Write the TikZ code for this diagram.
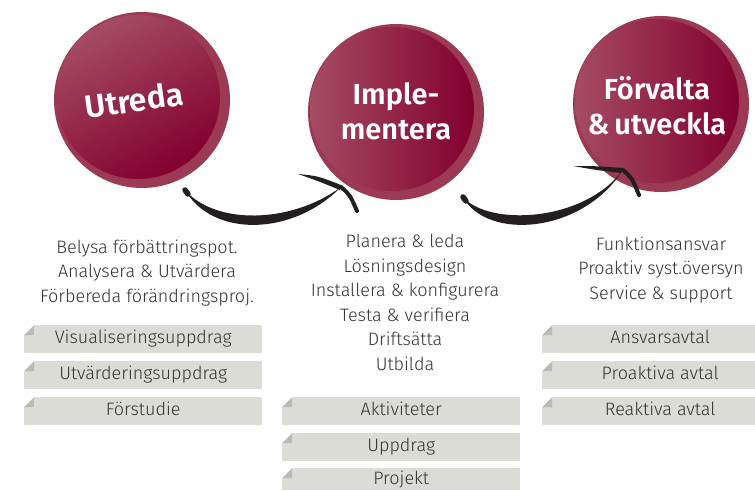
\documentclass[tikz,border=0pt]{standalone}
\usepackage{fontspec}
\setmainfont{Fira Sans}[UprightFont=* Light, BoldFont=* SemiBold]
\usetikzlibrary{calc}
\definecolor{ringc}{HTML}{9C3A53}
\definecolor{lightc}{HTML}{A54C63}
\definecolor{darkc}{HTML}{82002F}
\definecolor{txt}{HTML}{333333}
\definecolor{boxc}{HTML}{DCDCD7}
\definecolor{foldc}{HTML}{BABAB6}
\definecolor{ink}{HTML}{231F20}
\tikzset{
  ring/.style={circle, fill=ringc, minimum size=176pt, inner sep=0pt},
  head/.style={text=white, font=\bfseries\fontsize{29}{35}\selectfont, align=center, inner sep=0pt},
  body/.style={text=txt, font=\fontsize{18}{24.5}\selectfont, align=center, inner sep=0pt, anchor=base},
  tab/.style={fill=boxc, text=txt, font=\fontsize{18}{20}\selectfont, minimum width=238pt, minimum height=28pt,
    inner sep=0pt, text height=13pt, text depth=3.5pt,
    path picture={
      \fill[white] (path picture bounding box.north west) -- ([xshift=10pt]path picture bounding box.north west)
        -- ([yshift=-10pt]path picture bounding box.north west) -- cycle;
      \fill[foldc] ([xshift=10pt]path picture bounding box.north west) -- ([xshift=10pt,yshift=-10pt]path picture bounding box.north west)
        -- ([yshift=-10pt]path picture bounding box.north west) -- cycle;
    }},
}
\begin{document}
\begin{tikzpicture}[x=1pt,y=-1pt]
\useasboundingbox (0,0) rectangle (755,490);
% circles
\node[ring] (c1) at (142,100) {};
\shade[top color=lightc, bottom color=darkc, shading angle=30] ($(c1.center)+(-4,-3)$) circle[radius=82pt];
\node[head, rotate=8, font=\bfseries\fontsize{32}{35}\selectfont] (t1) at (134,100) {Utreda};
\node[ring] (c2) at (396,112) {};
\shade[top color=lightc, bottom color=darkc, shading angle=90] ($(c2.center)+(-4,-3)$) circle[radius=82pt];
\node[head] (t2) at (396,111) {Imple-\\mentera};
\node[ring] (c3) at (661,104) {};
\shade[top color=lightc, bottom color=darkc, shading angle=90] ($(c3.center)+(-4,-3)$) circle[radius=82pt];
\node[head] (t3) at (657,106) {Förvalta\\\&\,utveckla};
% arrow 1
\coordinate (a1s) at (185,190);
\coordinate (a1e) at (341,187);
\fill[ink] (a1s) .. controls +(30,35) and +(-50,37) .. (a1e) .. controls +(-48,49) and +(28,48) .. (a1s) -- cycle;
\draw[ink, line width=5.5pt, line cap=round] (a1s) -- +(3,4);
\fill[ink] (298,174) .. controls (318,176) .. (341,185) -- (340,190) .. controls (318,181) .. (298,174);
\draw[ink, line width=4pt, line cap=round] (a1e) .. controls (350,195) .. (357,211);
% arrow 2
\coordinate (a2s) at (463,197);
\coordinate (a2e) at (623,170);
\fill[ink] (a2s) .. controls +(25,29) and +(-40,53) .. (a2e) .. controls +(-42,65) and +(23,43) .. (a2s) -- cycle;
\draw[ink, line width=5.5pt, line cap=round] (a2s) -- +(3,4);
\fill[ink] (573,166) .. controls (595,166) .. (623,168) -- (621,173) .. controls (596,170) .. (573,166);
\draw[ink, line width=4pt, line cap=round] (a2e) .. controls (632,178) .. (639,195);
% texts (base anchor = last line)
\node[body] (b1) at (147,302) {Belysa förbättringspot.\\Analysera \& Utvärdera\\Förbereda förändringsproj.};
\node[body] (b2) at (405,370) {Planera \& leda\\Lösningsdesign\\Installera \& konfigurera\\Testa \& verifiera\\Driftsätta\\Utbilda};
\node[body] (b3) at (661,299) {Funktionsansvar\\Proaktiv syst.översyn\\Service \& support};
% tabs
\node[tab, anchor=north west] (l1) at (24,325) {Visualiseringsuppdrag};
\node[tab, anchor=north west] (l2) at (24,361) {Utvärderingsuppdrag};
\node[tab, anchor=north west] (l3) at (24,397) {Förstudie};
\node[tab, anchor=north west] (m1) at (282,397) {Aktiviteter};
\node[tab, anchor=north west] (m2) at (282,433) {Uppdrag};
\node[tab, anchor=north west, minimum height=22pt, text depth=2pt] (m3) at (282,468) {Projekt};
\node[tab, anchor=north west, minimum width=236pt] (r1) at (542,325) {Ansvarsavtal};
\node[tab, anchor=north west, minimum width=236pt] (r2) at (542,361) {Proaktiva avtal};
\node[tab, anchor=north west, minimum width=236pt] (r3) at (542,397) {Reaktiva avtal};
\end{tikzpicture}
\end{document}
